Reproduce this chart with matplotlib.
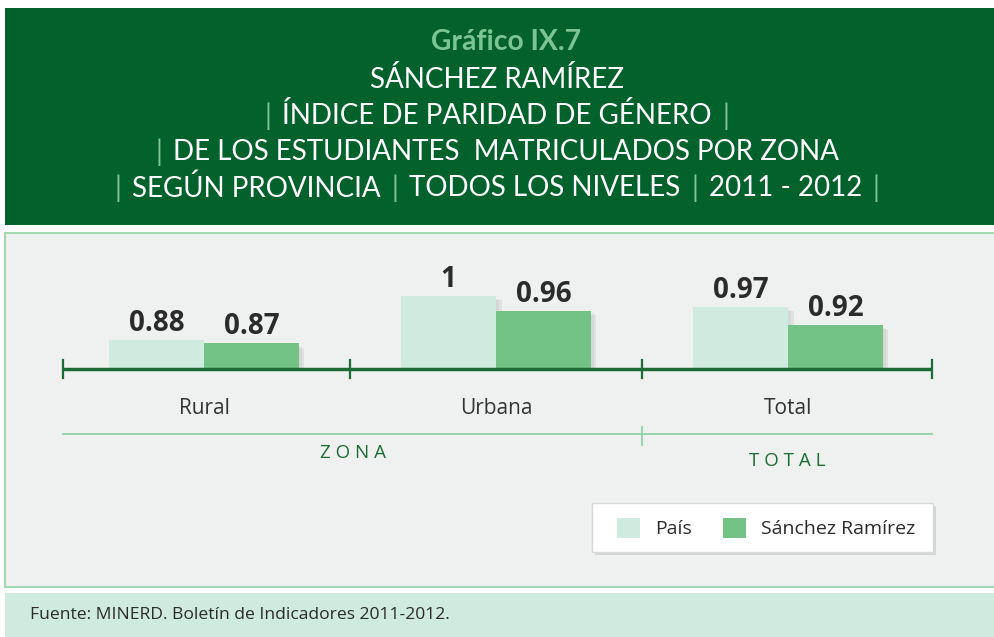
import matplotlib
matplotlib.use("Agg")
import matplotlib.pyplot as plt
from matplotlib.patches import Rectangle
from matplotlib import patheffects as pe
import matplotlib.transforms as mtransforms

# ---------------- data ----------------
categories = ["Rural", "Urbana", "Total"]
series_names = ["País", "Sánchez Ramírez"]
pais = [0.88, 1.0, 0.97]
sanchez = [0.87, 0.96, 0.92]
groups = ["ZONA", "TOTAL"]
group_members = [[0, 1], [2]]

title_top = "Gráfico IX.7"
title_lines = [
    ["SÁNCHEZ RAMÍREZ"],
    ["|", "ÍNDICE DE PARIDAD DE GÉNERO", "|"],
    ["|", "DE LOS ESTUDIANTES  MATRICULADOS POR ZONA"],
    ["|", "SEGÚN PROVINCIA", "|", "TODOS LOS NIVELES", "|", "2011 - 2012", "|"],
]
source = "Fuente: MINERD. Boletín de Indicadores 2011-2012."

# ---------------- style ----------------
DARK = "#03622c"
C_PAIS = "#cfeadf"
C_SR = "#73c386"
AXIS_GREEN = "#1d6b34"
LIGHT_LINE = "#8fd3a5"
PIPE = "#86c49a"
TXT = "#2b2b2b"
BODY_FONT = ["Open Sans", "DejaVu Sans"]
TITLE_FONT = ["Lato", "DejaVu Sans"]

W, H = 994, 637
fig = plt.figure(figsize=(W / 100, H / 100), dpi=100)
fig.patch.set_facecolor("white")


def fx(x):
    return x / W


def fy(y):
    return 1 - y / H


def rect(x0, y0, x1, y1, **kw):
    r = Rectangle((fx(x0), fy(y1)), (x1 - x0) / W, (y1 - y0) / H,
                  transform=fig.transFigure, **kw)
    fig.patches.append(r)
    return r


# header, panel, footer
rect(5, 8, 1000, 225, facecolor=DARK, edgecolor="none", zorder=-2)
rect(5, 233, 1002, 587, facecolor="#eff1f1", edgecolor="#a3d8b3", linewidth=1.5, zorder=-2)
rect(5, 593, 1000, 640, facecolor=C_PAIS, edgecolor="none", zorder=-2)

fig.text(fx(30), fy(615), source, fontsize=12.6, color=TXT, family=BODY_FONT,
         ha="left", va="center")

renderer = fig.canvas.get_renderer()


def draw_line(y_px, items, size, color, weight="normal"):
    texts = []
    for s in items:
        c = PIPE if s == "|" else color
        t = fig.text(0, fy(y_px), s, fontsize=size, color=c, family=TITLE_FONT,
                     weight=weight, ha="left", va="center")
        texts.append(t)
    widths = [t.get_window_extent(renderer).width for t in texts]
    a = fig.text(0, 0, "xx", fontsize=size, family=TITLE_FONT)
    b = fig.text(0, 0, "x x", fontsize=size, family=TITLE_FONT)
    gap = b.get_window_extent(renderer).width - a.get_window_extent(renderer).width
    a.remove(); b.remove()
    gap *= 1.5
    total = sum(widths) + gap * (len(items) - 1)
    x = W / 2 - total / 2
    for t, w in zip(texts, widths):
        t.set_x(fx(x))
        x += w + gap
    return texts, total


# fit title size to reference width of longest line
probe = 20
ptexts, wprobe = draw_line(-100, title_lines[3], probe, "white")
for t in ptexts:
    t.remove()
tsize = probe * 763 / wprobe

fig.text(fx(506), fy(42), title_top, fontsize=tsize * 1.02, color="#7cc592",
         family=TITLE_FONT, weight="bold", ha="center", va="center")
for i, items in enumerate(title_lines):
    draw_line(80 + 36 * i, items, tsize, "white")

# ---------------- bars ----------------
ax = fig.add_axes([fx(63), fy(369), (932 - 63) / W, (369 - 260) / H])
ax.set_facecolor("none")
x0, x1 = -0.483, 2.493
ymin = 0.8
ax.set_xlim(x0, x1)
ax.set_ylim(ymin, ymin + 109 / 365)
ax.axis("off")

xs = list(range(len(categories)))
bw = 0.325
shadow = [pe.SimplePatchShadow(offset=(4, -3), shadow_rgbFace="#a0a0a0", alpha=0.18),
          pe.SimplePatchShadow(offset=(2, -2), shadow_rgbFace="#a0a0a0", alpha=0.15),
          pe.Normal()]
b1 = ax.bar([x - bw / 2 for x in xs], pais, bw, color=C_PAIS, label=series_names[0],
            path_effects=shadow, zorder=2)
b2 = ax.bar([x + bw / 2 for x in xs], sanchez, bw, color=C_SR, label=series_names[1],
            path_effects=shadow, zorder=3)

for bars, vals in ((b1, pais), (b2, sanchez)):
    for r, v in zip(bars, vals):
        ax.annotate(f"{v:g}", (r.get_x() + r.get_width() / 2, v), xytext=(0, 1.5),
                    textcoords="offset points", ha="center", va="bottom",
                    fontsize=20, weight="bold", color=TXT, family=BODY_FONT,
                    annotation_clip=False)

# axis line and separators
ax.plot([x0, x1], [ymin, ymin], color=AXIS_GREEN, lw=2.5, clip_on=False, zorder=4,
        solid_capstyle="butt")
bounds = [x0] + [i + 0.5 for i in xs[:-1]] + [x1]
tdy = 9 / 109
btrans = mtransforms.blended_transform_factory(ax.transData, ax.transAxes)
for bx in bounds:
    ax.plot([bx, bx], [-tdy, tdy], color=AXIS_GREEN, lw=1.6, transform=btrans,
            clip_on=False, zorder=4)

ftrans = mtransforms.blended_transform_factory(ax.transData, fig.transFigure)
for x, c in zip(xs, categories):
    ax.text(x, fy(408), c, transform=ftrans, ha="center", va="center",
            fontsize=15, color="#333333", family=BODY_FONT)

# group line and labels
ax.plot([x0, x1], [fy(434), fy(434)], transform=ftrans, color=LIGHT_LINE, lw=1.3,
        clip_on=False)
group_y = [453, 461]
for gi, (g, mem) in enumerate(zip(groups, group_members)):
    left = x0 if mem[0] == 0 else mem[0] - 0.5
    right = x1 if mem[-1] == len(xs) - 1 else mem[-1] + 0.5
    if mem[0] != 0:
        ax.plot([left, left], [fy(427), fy(445)], transform=ftrans, color=LIGHT_LINE,
                lw=1.3, clip_on=False)
    ax.text((left + right) / 2, fy(group_y[gi]), " ".join(g), transform=ftrans,
            ha="center", va="center", fontsize=13.5, color=AXIS_GREEN, family=BODY_FONT)

# legend box
box = rect(592, 503, 933, 552, facecolor="white", edgecolor="#d8d8d8", linewidth=1, zorder=5)
box.set_path_effects([pe.SimplePatchShadow(offset=(2, -2), shadow_rgbFace="#b0b0b0", alpha=0.4),
                      pe.Normal()])
leg = fig.legend(handles=[b1, b2], labels=series_names, loc="center",
                 bbox_to_anchor=(fx(766), fy(528)), ncol=2, frameon=False,
                 prop={"family": BODY_FONT, "size": 14}, handlelength=1.2,
                 handleheight=1.2, handletextpad=0.75, columnspacing=1.6)
leg.set_zorder(6)
for t in leg.get_texts():
    t.set_color(TXT)
for h in leg.legend_handles:
    h.set_path_effects([])

fig.savefig("out.png", dpi=100)
